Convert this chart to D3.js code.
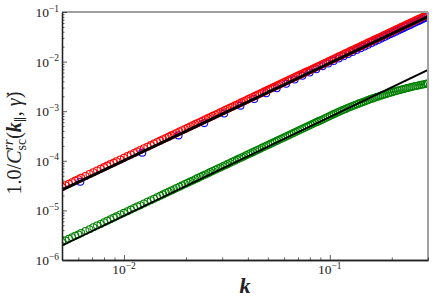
<!DOCTYPE html>
<html>
<head>
<meta charset="utf-8">
<script src="https://cdn.jsdelivr.net/npm/d3@7/dist/d3.min.js"></script>
<style>
body { margin: 0; background: #fff; }
text { font-family: "Liberation Serif", "DejaVu Serif", serif; fill: #222; }
</style>
</head>
<body>
<svg width="436" height="305"></svg>
<script>
// wavenumbers of the fine runs (red and green share them)
var kFine = [
  0.0050,0.0052,0.0054,0.0056,0.0058,0.0060,0.0062,0.0065,0.0068,0.0071,0.0074,0.0077,0.0080,
  0.0083,0.0086,0.0089,0.0092,0.0096,0.0100,0.0104,0.0108,0.0112,0.0116,0.0120,0.0125,0.0130,0.0135,0.0140,
  0.0145,0.0150,0.0155,0.0160,0.0165,0.0170,0.0175,0.0180,0.0186,0.0192,0.0198,0.0204,0.0210,0.0216,0.0222,0.0228,0.0235,0.0242,0.0249,
  0.0256,0.0263,0.0270,0.0278,0.0286,0.0294,0.0302,0.0310,0.0318,0.0327,0.0336,0.0345,0.0354,0.0363,0.0372,0.0382,0.0392,0.0402,0.0412,0.0423,0.0434,0.0445,0.0456,0.0468,0.0480,0.0492,
  0.0504,0.0516,0.0528,0.0541,0.0554,0.0567,0.0581,0.0595,0.0609,0.0624,0.0639,0.0654,0.0670,0.0686,0.0702,0.0719,0.0736,0.0754,0.0772,0.0790,0.0809,0.0828,0.0848,0.0868,0.0889,0.0910,0.0932,0.0954,0.0977,0.1000,
  0.1022,0.1045,0.1068,0.1092,0.1116,0.1141,0.1166,0.1192,0.1218,0.1245,0.1272,0.1300,0.1329,0.1358,0.1388,0.1418,0.1449,0.1481,0.1514,0.1547,0.1581,0.1616,0.1651,0.1687,0.1724,0.1762,0.1801,0.1840,0.1880,0.1921,0.1963,0.2006,0.2050,0.2095,0.2141,0.2188,0.2236,0.2285,0.2335,0.2386,0.2438,0.2491,0.2546,0.2602,0.2659,0.2717,0.2777,0.2838,0.2900,0.2964,0.3000
];

var redVals = [
  2.98e-5,3.21e-5,3.46e-5,3.71e-5,3.98e-5,4.25e-5,4.53e-5,4.96e-5,5.42e-5,5.90e-5,6.40e-5,6.91e-5,7.45e-5,
  8.00e-5,8.58e-5,9.17e-5,9.79e-5,1.064e-4,1.153e-4,1.245e-4,1.340e-4,1.439e-4,1.541e-4,1.646e-4,1.783e-4,1.925e-4,2.072e-4,2.225e-4,
  2.384e-4,2.549e-4,2.717e-4,2.893e-4,3.071e-4,3.257e-4,3.445e-4,3.642e-4,3.882e-4,4.132e-4,4.387e-4,4.649e-4,4.922e-4,5.198e-4,5.485e-4,5.781e-4,6.130e-4,6.495e-4,6.864e-4,
  7.248e-4,7.643e-4,8.048e-4,8.517e-4,9.006e-4,9.499e-4,1.0014e-3,1.0542e-3,1.1073e-3,1.1698e-3,1.2339e-3,1.2986e-3,1.3659e-3,1.4350e-3,1.5056e-3,1.5862e-3,1.6688e-3,1.7518e-3,1.8383e-3,1.9360e-3,2.0361e-3,2.1367e-3,2.2416e-3,2.3589e-3,2.4791e-3,2.5998e-3,
  2.7256e-3,2.8543e-3,2.9858e-3,3.1317e-3,3.2809e-3,3.4335e-3,3.6018e-3,3.7739e-3,3.9499e-3,4.1430e-3,4.3404e-3,4.5423e-3,4.7628e-3,4.9883e-3,5.209e-3,5.459e-3,5.715e-3,5.992e-3,6.276e-3,6.566e-3,6.879e-3,7.199e-3,7.543e-3,7.896e-3,8.275e-3,8.662e-3,9.077e-3,9.502e-3,9.946e-3,1.040e-2,
  1.085e-2,1.133e-2,1.183e-2,1.235e-2,1.289e-2,1.346e-2,1.404e-2,1.466e-2,1.529e-2,1.596e-2,1.665e-2,1.737e-2,1.814e-2,1.892e-2,1.974e-2,2.059e-2,2.147e-2,2.241e-2,2.340e-2,2.441e-2,2.547e-2,2.658e-2,2.772e-2,2.891e-2,3.016e-2,3.147e-2,3.285e-2,3.426e-2,3.573e-2,3.727e-2,3.888e-2,4.056e-2,4.232e-2,4.415e-2,4.607e-2,4.806e-2,5.015e-2,5.232e-2,5.458e-2,5.693e-2,5.938e-2,6.193e-2,6.463e-2,6.743e-2,7.035e-2,7.338e-2,7.658e-2,7.990e-2,8.334e-2,8.697e-2,8.91e-2
];

var greenVals = [
  2.30e-6,2.48e-6,2.67e-6,2.87e-6,3.07e-6,3.28e-6,3.49e-6,3.83e-6,4.18e-6,4.56e-6,4.94e-6,5.34e-6,5.75e-6,
  6.19e-6,6.63e-6,7.10e-6,7.58e-6,8.23e-6,8.92e-6,9.64e-6,1.037e-5,1.114e-5,1.194e-5,1.274e-5,1.381e-5,1.491e-5,1.604e-5,1.723e-5,
  1.844e-5,1.971e-5,2.102e-5,2.237e-5,2.374e-5,2.517e-5,2.664e-5,2.816e-5,3.003e-5,3.196e-5,3.391e-5,3.596e-5,3.806e-5,4.022e-5,4.243e-5,4.471e-5,4.744e-5,5.025e-5,5.313e-5,
  5.610e-5,5.914e-5,6.226e-5,6.592e-5,6.969e-5,7.347e-5,7.743e-5,8.149e-5,8.565e-5,9.046e-5,9.540e-5,1.0046e-4,1.0564e-4,1.1095e-4,1.1638e-4,1.2258e-4,1.2892e-4,1.3542e-4,1.4208e-4,1.4958e-4,1.5728e-4,1.6515e-4,1.7321e-4,1.8223e-4,1.9146e-4,2.0091e-4,
  2.1058e-4,2.2046e-4,2.3055e-4,2.4175e-4,2.5321e-4,2.6491e-4,2.7781e-4,2.9101e-4,3.0449e-4,3.1929e-4,3.3441e-4,3.4987e-4,3.6675e-4,3.8401e-4,4.0164e-4,4.213e-4,4.409e-4,4.622e-4,4.839e-4,5.061e-4,5.301e-4,5.553e-4,5.818e-4,6.088e-4,6.378e-4,6.674e-4,6.992e-4,7.317e-4,7.655e-4,8.00e-4,
  8.365e-4,8.730e-4,9.097e-4,9.483e-4,9.872e-4,1.0278e-3,1.0688e-3,1.1116e-3,1.1543e-3,1.1991e-3,1.2439e-3,1.2903e-3,1.3386e-3,1.3868e-3,1.4368e-3,1.4867e-3,1.5382e-3,1.5911e-3,1.6456e-3,1.6999e-3,1.7555e-3,1.8124e-3,1.8691e-3,1.927e-3,1.986e-3,2.0462e-3,2.1074e-3,2.1678e-3,2.2295e-3,2.292e-3,2.3548e-3,2.4184e-3,2.4828e-3,2.5478e-3,2.6133e-3,2.6785e-3,2.7443e-3,2.8106e-3,2.8766e-3,2.9427e-3,3.0088e-3,3.0746e-3,3.1412e-3,3.2071e-3,3.2735e-3,3.3382e-3,3.4039e-3,3.469e-3,3.533e-3,3.5976e-3,3.632e-3
];

// coarse run
var kBlue = [
  0.006136,0.012272,0.018408,0.024544,0.030680,0.036816,0.042952,0.049088,0.055224,0.061360,
  0.067496,0.073632,0.079768,0.085904,0.092040,0.098176,0.104312,0.110448,0.116584,0.122720,
  0.128856,0.134992,0.141128,0.147264,0.153400,0.159536,0.165672,0.171808,0.177944,0.184080,
  0.190216,0.196352,0.202488,0.208624,0.214760,0.220896,0.227032,0.233168,0.239304,0.245440,
  0.251576,0.257712,0.263848,0.269984,0.276120,0.282256,0.288392,0.294528
];
var blueVals = [
  3.765e-5,1.461e-4,3.253e-4,5.753e-4,8.989e-4,1.2944e-3,1.760e-3,2.2988e-3,2.9064e-3,3.5881e-3,
  4.3370e-3,5.1614e-3,6.0511e-3,7.0179e-3,8.0478e-3,9.1566e-3,1.0315e-2,1.1540e-2,1.2831e-2,1.4187e-2,
  1.5591e-2,1.7075e-2,1.8622e-2,2.0212e-2,2.1884e-2,2.3645e-2,2.5471e-2,2.7363e-2,2.9321e-2,3.1344e-2,
  3.3432e-2,3.5547e-2,3.7762e-2,4.0042e-2,4.2386e-2,4.4745e-2,4.7214e-2,4.9746e-2,5.2342e-2,5.4940e-2,
  5.7658e-2,6.0438e-2,6.3281e-2,6.6112e-2,6.9076e-2,7.2100e-2,7.5102e-2,7.8246e-2
];

// power-law fits
var fitK = [0.005, 0.3];
var fitTop = [2.58e-5, 0.0811];
var fitBottom = [1.96e-6, 0.0068];

var xMajor = [0.01, 0.1];
var xMinor = [0.006,0.007,0.008,0.009,0.02,0.03,0.04,0.05,0.06,0.07,0.08,0.09,0.2,0.3];
var yMajor = [1e-6,1e-5,1e-4,1e-3,1e-2,1e-1];

var svg = d3.select("svg"),
    margin = {top: 12, right: 8, bottom: 45, left: 62},
    width = 436 - margin.left - margin.right,
    height = 305 - margin.top - margin.bottom,
    g = svg.append("g").attr("transform", "translate(" + margin.left + "," + margin.top + ")");

var x = d3.scaleLog().domain([0.005, 0.3]).range([0, width]),
    y = d3.scaleLog().domain([1e-6, 1e-1]).range([height, 0]);

var yMinor = [];
yMajor.slice(0, -1).forEach(function(d) {
  for (var m = 2; m < 10; m++) yMinor.push(d * m);
});

svg.append("defs").append("clipPath").attr("id", "clip")
  .append("rect").attr("width", width).attr("height", height);

var plot = g.append("g").attr("clip-path", "url(#clip)");

function series(ks, vals, color) {
  var pts = ks.map(function(k, i) { return {k: k, v: vals[i]}; })
    .filter(function(d) { return d.v != null; });
  plot.append("g").selectAll("circle")
    .data(pts)
    .enter().append("circle")
      .attr("cx", function(d) { return x(d.k); })
      .attr("cy", function(d) { return y(d.v); })
      .attr("r", 3.5)
      .attr("fill", "none")
      .attr("stroke", color)
      .attr("stroke-width", 1.05);
}

series(kBlue, blueVals, "#0000ff");
series(kFine, redVals, "#ff0000");
series(kFine, greenVals, "#008000");

var line = d3.line()
  .x(function(d) { return x(d[0]); })
  .y(function(d) { return y(d[1]); });

plot.append("path")
  .attr("d", line(d3.zip(fitK, fitTop)))
  .attr("fill", "none").attr("stroke", "#000").attr("stroke-width", 3);
plot.append("path")
  .attr("d", line(d3.zip(fitK, fitBottom)))
  .attr("fill", "none").attr("stroke", "#000").attr("stroke-width", 1.8);

// top and right spines
g.append("line").attr("x1", 0).attr("x2", width).attr("y1", 0).attr("y2", 0)
  .attr("stroke", "#a0a0a0").attr("stroke-width", 2);
g.append("line").attr("x1", width).attr("x2", width).attr("y1", 0).attr("y2", height)
  .attr("stroke", "#a0a0a0").attr("stroke-width", 2);

// axes with inward ticks
function styleAxis(sel) {
  sel.selectAll("text").remove();
  sel.select(".domain").attr("stroke", "#222").attr("stroke-width", 1.3);
  sel.selectAll(".tick line").attr("stroke", "#333").attr("stroke-width", 0.8);
}

g.append("g").attr("transform", "translate(0," + height + ")")
  .call(d3.axisBottom(x).tickValues(xMinor).tickSizeInner(-2.5).tickSizeOuter(0))
  .call(styleAxis);
g.append("g").attr("transform", "translate(0," + height + ")")
  .call(d3.axisBottom(x).tickValues(xMajor).tickSizeInner(-5).tickSizeOuter(0))
  .call(styleAxis);
g.append("g")
  .call(d3.axisLeft(y).tickValues(yMinor).tickSizeInner(-2.5).tickSizeOuter(0))
  .call(styleAxis);
g.append("g")
  .call(d3.axisLeft(y).tickValues(yMajor).tickSizeInner(-5).tickSizeOuter(0))
  .call(styleAxis);

function powerLabel(t, v) {
  t.text("10");
  t.append("tspan")
    .attr("dy", -5.5)
    .style("font-size", "9.5px")
    .text("\u2212" + Math.round(-Math.log10(v)));
}

g.selectAll(".xlab")
  .data(xMajor)
  .enter().append("text")
    .attr("x", function(d) { return x(d); })
    .attr("y", height + 14)
    .attr("text-anchor", "middle")
    .style("font-size", "13.5px")
    .each(function(d) { powerLabel(d3.select(this), d); });

g.selectAll(".ylab")
  .data(yMajor)
  .enter().append("text")
    .attr("x", -3)
    .attr("y", function(d) { return y(d) + 5; })
    .attr("text-anchor", "end")
    .style("font-size", "13.5px")
    .each(function(d) { powerLabel(d3.select(this), d); });

// axis titles
g.append("text")
  .attr("x", width / 2)
  .attr("y", height + 33)
  .attr("text-anchor", "middle")
  .style("font-size", "22px")
  .style("font-weight", "bold")
  .style("font-style", "italic")
  .text("k");

var yl = svg.append("text")
  .attr("transform", "translate(21,143) rotate(-90)")
  .attr("text-anchor", "middle")
  .style("font-size", "20px");
yl.append("tspan").text("1.0/");
yl.append("tspan").style("font-style", "italic").text("C");
var sup = yl.append("tspan").style("font-style", "italic").style("font-size", "14px")
  .attr("dy", -8).text("rr");
var supW = sup.node().getComputedTextLength();
yl.append("tspan").style("font-size", "14px")
  .attr("dx", -supW).attr("dy", 13).text("sc");
yl.append("tspan").attr("dy", -5).text("(");
yl.append("tspan").style("font-weight", "bold").style("font-style", "italic").text("k");
yl.append("tspan").style("font-size", "13px").attr("dy", 4).text("\u2225");
yl.append("tspan").attr("dy", -4).text(", ");
yl.append("tspan").style("font-style", "italic").text("\u03B3\u0307");
yl.append("tspan").text(")");
</script>
</body>
</html>
